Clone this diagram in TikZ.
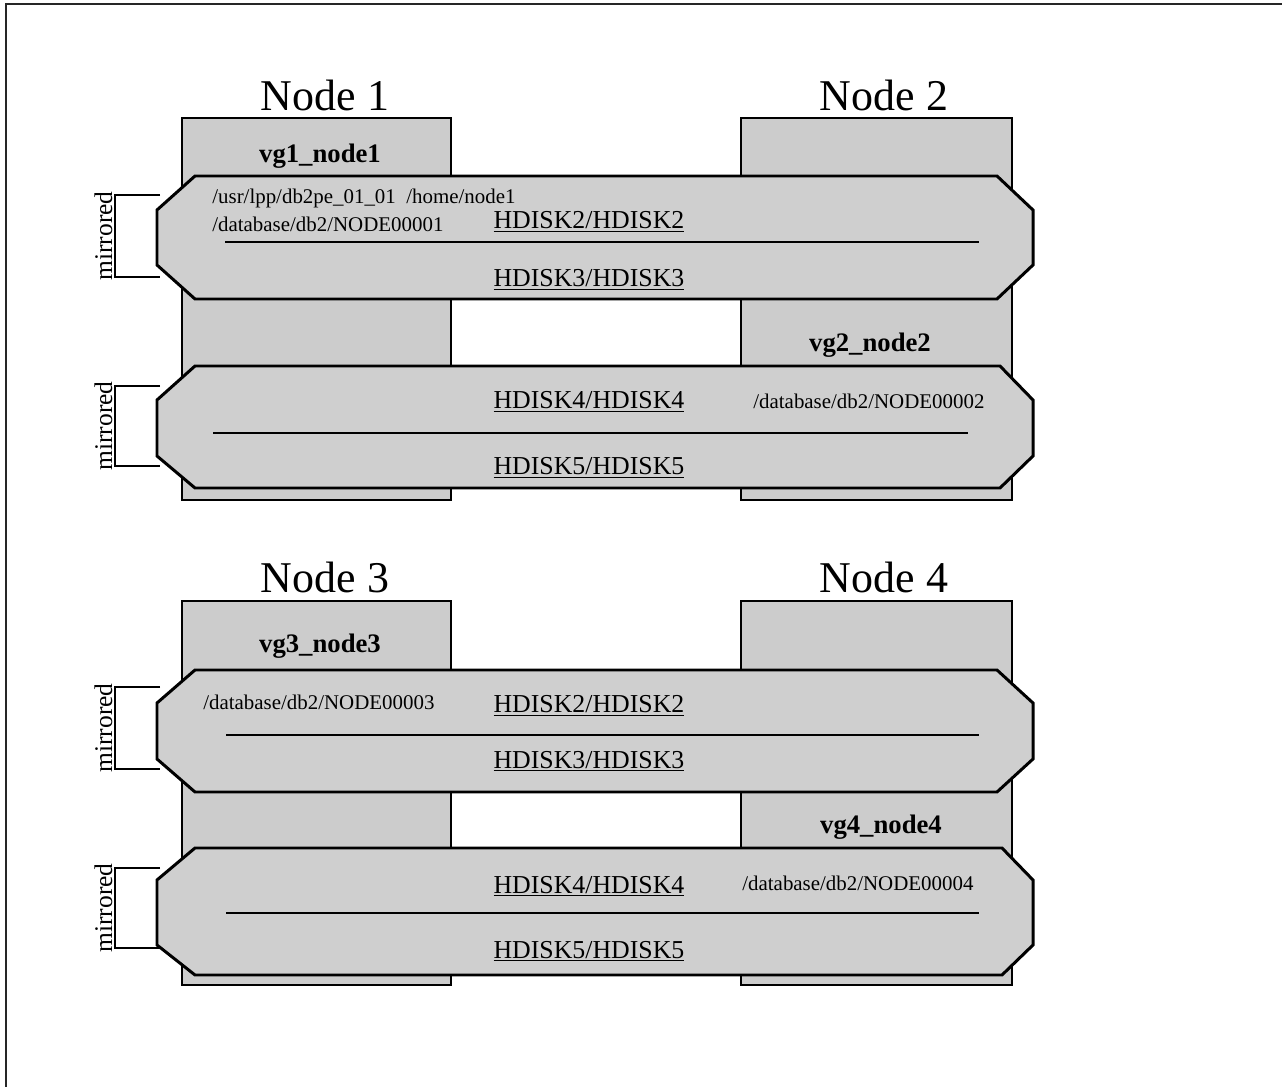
\documentclass[tikz,border=0pt]{standalone}
\usepackage{fontspec}
\setmainfont{Liberation Serif}
\begin{document}
\begin{tikzpicture}[x=0.02cm,y=-0.02cm,
  frameline/.style={line width=1.1pt,black!85},
  nodebox/.style={draw=black,line width=1.3pt,fill=black!20},
  band/.style={draw=black,line width=1.7pt,fill=black!19,line join=miter},
  divider/.style={line width=1.4pt},
  bracket/.style={line width=1.1pt},
  nodetitle/.style={font=\fontsize{25}{30}\selectfont,anchor=base,inner sep=0pt},
  vglabel/.style={font=\bfseries\fontsize{15.2}{18}\selectfont,anchor=base,inner sep=0pt},
  disk/.style={font=\fontsize{14.7}{17}\selectfont,anchor=base,inner sep=0pt},
  fspath/.style={font=\fontsize{11.9}{14}\selectfont,anchor=base west,inner sep=0pt},
  mirr/.style={font=\fontsize{14.5}{17}\selectfont,anchor=base,rotate=90,inner sep=0pt}]
\useasboundingbox (0,0) rectangle (1282,1087);

% outer frame (open towards right and bottom)
\draw[frameline] (6,1087) -- (6,4) -- (1282,4);

% ---------- upper pair: Node 1 / Node 2 ----------
\node[nodetitle] (t1) at (325,111) {Node 1};
\node[nodetitle] (t2) at (884,111) {Node 2};
\draw[nodebox] (182,118) rectangle (451,500);
\draw[nodebox] (741,118) rectangle (1012,500);

% volume group band 1 (mirrored HDISK2/HDISK3)
\draw[band] (195,176) -- (997,176) -- (1033,210) -- (1033,265) -- (997,299)
  -- (195,299) -- (157,265) -- (157,210) -- cycle;
\draw[divider] (225,242) -- (979,242);
% volume group band 2 (mirrored HDISK4/HDISK5)
\draw[band] (195,366) -- (1000,366) -- (1033,400) -- (1033,456) -- (1000,488)
  -- (195,488) -- (157,456) -- (157,400) -- cycle;
\draw[divider] (213,433) -- (968,433);

\node[vglabel] (vg1) at (320,163) {vg1\_node1};
\node[vglabel] (vg2) at (870,352) {vg2\_node2};
\node[fspath] (p1a) at (212,204) {/usr/lpp/db2pe\_01\_01\ \ /home/node1};
\node[fspath] (p1b) at (212,232) {/database/db2/NODE00001};
\node[fspath] (p2) at (753,409) {/database/db2/NODE00002};
\node[disk] (d12) at (589,229) {\underline{HDISK2/HDISK2}};
\node[disk] (d13) at (589,287) {\underline{HDISK3/HDISK3}};
\node[disk] (d14) at (589,409) {\underline{HDISK4/HDISK4}};
\node[disk] (d15) at (589,475) {\underline{HDISK5/HDISK5}};

% mirror brackets
\coordinate (m1a) at (160,195); \coordinate (m1b) at (160,277);
\draw[bracket] (m1a) -- (115,195) -- (115,277) -- (m1b);
\node[mirr] (mr1) at (112,236) {mirrored};
\coordinate (m2a) at (160,386); \coordinate (m2b) at (160,466);
\draw[bracket] (m2a) -- (115,386) -- (115,466) -- (m2b);
\node[mirr] (mr2) at (112,426) {mirrored};

% ---------- lower pair: Node 3 / Node 4 ----------
\node[nodetitle] (t3) at (325,593) {Node 3};
\node[nodetitle] (t4) at (884,593) {Node 4};
\draw[nodebox] (182,601) rectangle (451,985);
\draw[nodebox] (741,601) rectangle (1012,985);

\draw[band] (195,670) -- (997,670) -- (1033,703) -- (1033,759) -- (997,792)
  -- (195,792) -- (157,759) -- (157,703) -- cycle;
\draw[divider] (226,735) -- (979,735);
\draw[band] (195,848) -- (1002,848) -- (1033,880) -- (1033,945) -- (1002,975)
  -- (195,975) -- (157,945) -- (157,880) -- cycle;
\draw[divider] (226,913) -- (979,913);

\node[vglabel] (vg3) at (320,653) {vg3\_node3};
\node[vglabel] (vg4) at (881,833) {vg4\_node4};
\node[fspath] (p3) at (203,710) {/database/db2/NODE00003};
\node[fspath] (p4) at (742,890) {/database/db2/NODE00004};
\node[disk] (d32) at (589,713) {\underline{HDISK2/HDISK2}};
\node[disk] (d33) at (589,768) {\underline{HDISK3/HDISK3}};
\node[disk] (d34) at (589,893) {\underline{HDISK4/HDISK4}};
\node[disk] (d35) at (589,958) {\underline{HDISK5/HDISK5}};

\coordinate (m3a) at (160,687); \coordinate (m3b) at (160,769);
\draw[bracket] (m3a) -- (115,687) -- (115,769) -- (m3b);
\node[mirr] (mr3) at (112,728) {mirrored};
\coordinate (m4a) at (160,868); \coordinate (m4b) at (160,948);
\draw[bracket] (m4a) -- (115,868) -- (115,948) -- (m4b);
\node[mirr] (mr4) at (112,908) {mirrored};
\end{tikzpicture}
\end{document}
